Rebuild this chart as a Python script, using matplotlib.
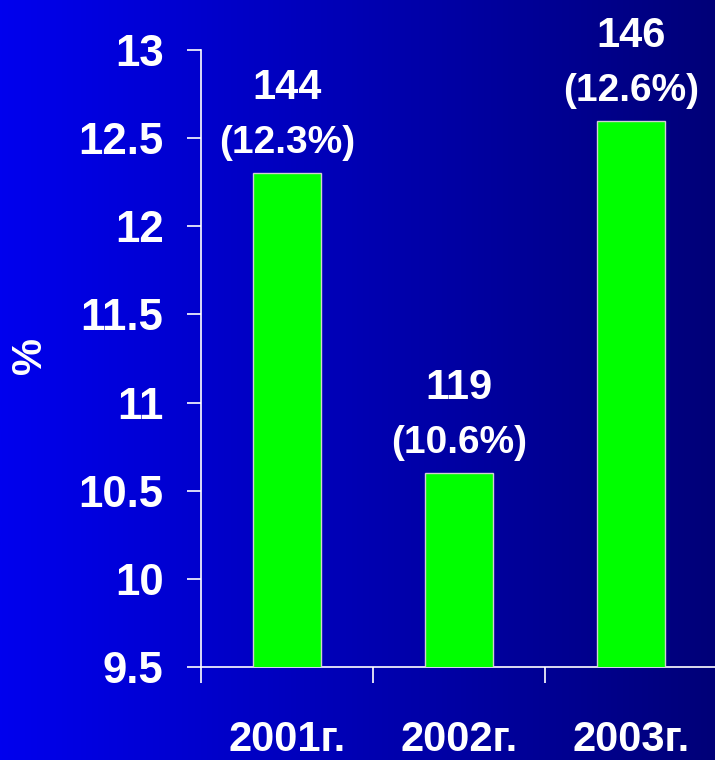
import numpy as np
import matplotlib
matplotlib.use("Agg")
import matplotlib.pyplot as plt
from matplotlib.colors import LinearSegmentedColormap

categories = ["2001г.", "2002г.", "2003г."]
values = [12.3, 10.6, 12.6]
counts = [144, 119, 146]
pct_labels = ["(12.3%)", "(10.6%)", "(12.6%)"]
yticks = [9.5, 10, 10.5, 11, 11.5, 12, 12.5, 13]
ytick_labels = ["9.5", "10", "10.5", "11", "11.5", "12", "12.5", "13"]

plt.rcParams['font.family'] = ['Liberation Sans', 'DejaVu Sans']

W, H, DPI = 715, 760, 100
fig = plt.figure(figsize=(W / DPI, H / DPI), dpi=DPI)

# background gradient
bg = fig.add_axes([0, 0, 1, 1])
cmap = LinearSegmentedColormap.from_list("bg", [(0, 0, 238 / 255), (0, 0, 120 / 255)])
grad = np.linspace(0, 1, 512).reshape(1, -1)
bg.imshow(grad, aspect="auto", cmap=cmap, extent=[0, 1, 0, 1])
bg.set_axis_off()

ax = fig.add_axes([201 / W, 1 - 667 / H, 516 / W, 617 / H])
ax.patch.set_alpha(0)
x = np.arange(len(categories))
ax.bar(x, values, width=0.395, bottom=0, color="#00ff00", edgecolor="#d0d0d0", linewidth=1.0, zorder=3)
ax.set_xlim(-0.5, 2.5)
ax.set_ylim(9.5, 13)

for s in ["top", "right"]:
    ax.spines[s].set_visible(False)
for s in ["left", "bottom"]:
    ax.spines[s].set_color("white")
    ax.spines[s].set_linewidth(1.2)

ax.set_yticks(yticks)
ax.set_yticklabels(ytick_labels)
ax.tick_params(axis="y", colors="white", length=10, width=1.2, pad=17, labelsize=31.5)
for t in ax.get_yticklabels():
    t.set_fontweight("bold")

ax.set_xticks([-0.5, 0.5, 1.5, 2.5])
ax.set_xticklabels([])
ax.tick_params(axis="x", which="major", colors="white", length=11.5, width=1.2)
ax.set_xticks(x, minor=True)
ax.set_xticklabels(categories, minor=True)
ax.tick_params(axis="x", which="minor", colors="white", length=0, pad=38.5, labelsize=30)
for t in ax.get_xticklabels(minor=True):
    t.set_fontweight("bold")

for xi, v, c, p in zip(x, values, counts, pct_labels):
    ax.annotate(str(c), (xi, v), xytext=(0, 85), textcoords="offset pixels",
                ha="center", va="center", color="white", fontsize=30, fontweight="bold")
    ax.annotate(p, (xi, v), xytext=(0, 30), textcoords="offset pixels",
                ha="center", va="center", color="white", fontsize=28, fontweight="bold")

fig.text(30 / W, 1 - 356 / H, "%", rotation=90, ha="center", va="center",
         color="white", fontsize=30, fontweight="bold")

fig.savefig("out.png", dpi=DPI)
